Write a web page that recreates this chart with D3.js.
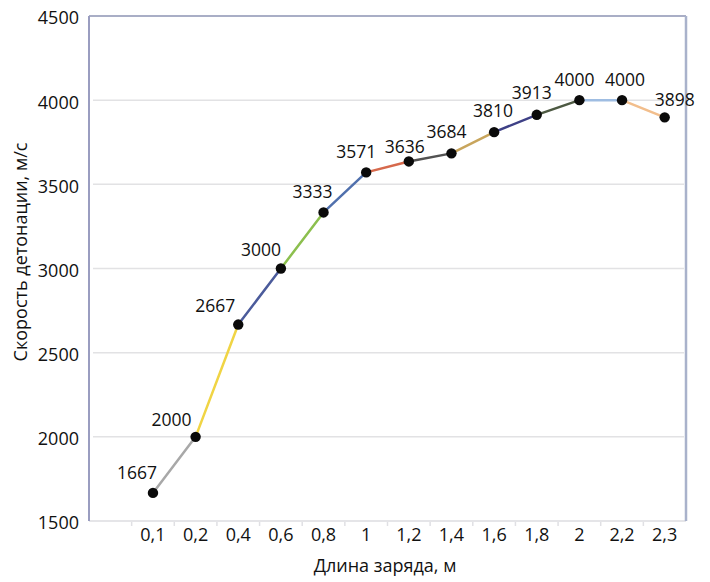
<!DOCTYPE html>
<html>
<head>
<meta charset="utf-8">
<script src="https://cdn.jsdelivr.net/npm/d3@7"></script>
<style>
  html, body { margin: 0; padding: 0; background: #ffffff; }
  svg { display: block; font-family: "Open Sans", "Noto Sans", sans-serif; }
</style>
</head>
<body>
<svg id="chart" width="710" height="582"></svg>
<script>
// ---- data ----
const categories = ["", "0,1", "0,2", "0,4", "0,6", "0,8", "1", "1,2", "1,4", "1,6", "1,8", "2", "2,2", "2,3"];
const pointCategories = ["0,1", "0,2", "0,4", "0,6", "0,8", "1", "1,2", "1,4", "1,6", "1,8", "2", "2,2", "2,3"];
const velocities = [1667, 2000, 2667, 3000, 3333, 3571, 3636, 3684, 3810, 3913, 4000, 4000, 3898];
const yTicks = [1500, 2000, 2500, 3000, 3500, 4000, 4500];
const segmentColors = ["#a8a8a8", "#f0d444", "#4b5b9b", "#8cbf4e", "#5070ad", "#d6694c",
                       "#525252", "#c8a55c", "#3e4086", "#4d5942", "#9fbde2", "#f2be8c"];
// label placement tweaks (relative to point): horizontal centre shift, baseline shift
const labelDx = [-16, -24, -23, -20, -11, -10, -4, -5, -1, -5, -5, 3, 10];
const labelDy = [-14, -11, -13, -13, -14, -14, -8, -15, -15, -16, -14, -14, -11];

// ---- layout ----
const plotLeft = 89, plotRight = 686, plotTop = 16, plotBottom = 521;
const svg = d3.select("#chart");

const x = d3.scaleBand().domain(categories).range([plotLeft, plotRight]).paddingInner(0).paddingOuter(0);
const y = d3.scaleLinear().domain([1500, 4500]).range([plotBottom, plotTop]);
const cx = c => x(c) + x.bandwidth() / 2;

// gridlines
svg.append("g").selectAll("line")
  .data(yTicks.filter(t => t > 1500 && t < 4500))
  .join("line")
  .attr("x1", plotLeft + 4).attr("x2", plotRight - 2)
  .attr("y1", d => y(d)).attr("y2", d => y(d))
  .attr("stroke", "#e2e2e4").attr("stroke-width", 1.5);

// bottom axis line and category tick marks
svg.append("line")
  .attr("x1", plotLeft).attr("x2", plotRight)
  .attr("y1", plotBottom).attr("y2", plotBottom)
  .attr("stroke", "#dcdce0").attr("stroke-width", 1.5);
svg.append("g").selectAll("line")
  .data(categories.slice(1))
  .join("line")
  .attr("x1", d => x(d)).attr("x2", d => x(d))
  .attr("y1", plotBottom + 1).attr("y2", plotBottom + 5)
  .attr("stroke", "#e0e0e4").attr("stroke-width", 1.5);

// frame: top, left, right
svg.append("line").attr("x1", plotLeft).attr("x2", plotRight).attr("y1", plotTop).attr("y2", plotTop)
  .attr("stroke", "#a9aec6").attr("stroke-width", 2);
svg.append("line").attr("x1", plotLeft).attr("x2", plotLeft).attr("y1", plotTop).attr("y2", plotBottom)
  .attr("stroke", "#9a9dc0").attr("stroke-width", 2);
svg.append("line").attr("x1", plotRight).attr("x2", plotRight).attr("y1", plotTop).attr("y2", plotBottom)
  .attr("stroke", "#a9b2cb").attr("stroke-width", 2.5);

// y tick labels
svg.append("g").selectAll("text")
  .data(yTicks)
  .join("text")
  .attr("x", plotLeft - 10)
  .attr("y", d => y(d) + 2)
  .attr("dy", "0.36em")
  .attr("text-anchor", "end")
  .attr("font-size", 18)
  .attr("fill", "#111")
  .text(d => d);

// x tick labels
svg.append("g").selectAll("text")
  .data(categories.slice(1))
  .join("text")
  .attr("x", d => cx(d))
  .attr("y", 541)
  .attr("text-anchor", "middle")
  .attr("font-size", 18)
  .attr("fill", "#111")
  .text(d => d);

// axis titles
svg.append("text")
  .attr("x", 385).attr("y", 572)
  .attr("text-anchor", "middle")
  .attr("font-size", 18)
  .attr("fill", "#111")
  .text("Длина заряда, м");
svg.append("text")
  .attr("transform", "translate(27,252) rotate(-90)")
  .attr("text-anchor", "middle")
  .attr("font-size", 18)
  .attr("fill", "#111")
  .text("Скорость детонации, м/с");

// data
const pts = pointCategories.map((c, i) => ({ c, v: velocities[i], i }));

// line segments, each coloured
svg.append("g").selectAll("line")
  .data(pts.slice(1))
  .join("line")
  .attr("x1", d => cx(pts[d.i - 1].c)).attr("y1", d => y(pts[d.i - 1].v))
  .attr("x2", d => cx(d.c)).attr("y2", d => y(d.v))
  .attr("stroke", d => segmentColors[d.i - 1])
  .attr("stroke-width", 2.5)
  .attr("stroke-linecap", "round");

// markers
svg.append("g").selectAll("circle")
  .data(pts)
  .join("circle")
  .attr("cx", d => cx(d.c)).attr("cy", d => y(d.v))
  .attr("r", 5.2)
  .attr("fill", "#0a0a0a");

// data labels
svg.append("g").selectAll("text")
  .data(pts)
  .join("text")
  .attr("x", d => cx(d.c) + labelDx[d.i])
  .attr("y", d => y(d.v) + labelDy[d.i])
  .attr("text-anchor", "middle")
  .attr("font-size", 17.5)
  .attr("fill", "#111")
  .text(d => d.v);
</script>
</body>
</html>
